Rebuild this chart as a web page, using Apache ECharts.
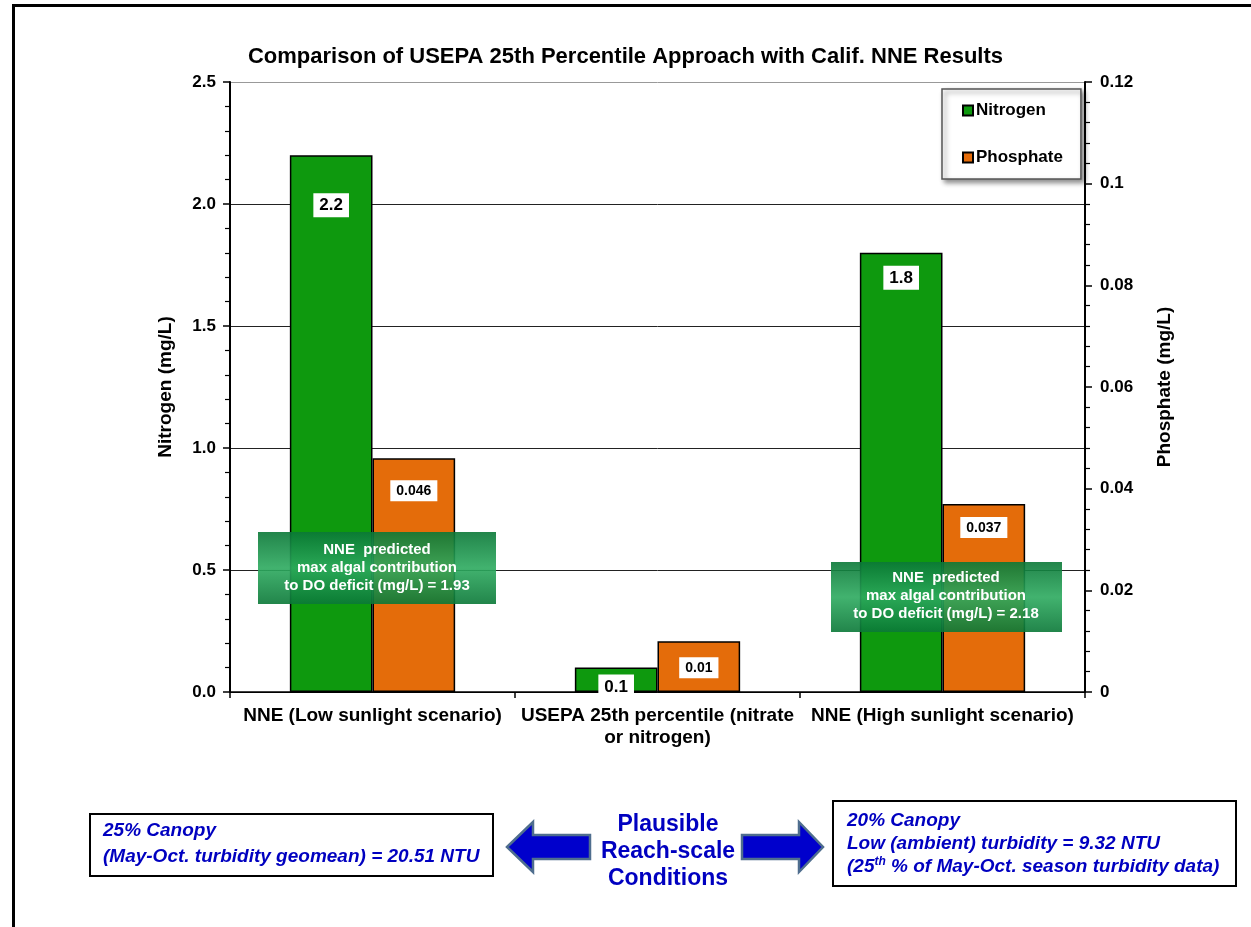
<!DOCTYPE html>
<html>
<head>
<meta charset="utf-8">
<script src="https://cdn.jsdelivr.net/npm/echarts@6/dist/echarts.min.js"></script>
<style>
html,body{margin:0;padding:0;background:#fff;}
#chart{width:1251px;height:927px;}
</style>
</head>
<body>
<div id="chart"></div>
<script>
const categories = ['NNE (Low sunlight scenario)', 'USEPA 25th percentile (nitrate\nor nitrogen)', 'NNE (High sunlight scenario)'];
const nitrogen = [2.2, 0.1, 1.8];
const phosphate = [0.046, 0.01, 0.037];
const leftTicks = [0, 0.5, 1.0, 1.5, 2.0, 2.5];
const rightTicks = [0, 0.02, 0.04, 0.06, 0.08, 0.1, 0.12];

// label placement (style only)
const nLabelDist = [38, 7, 13];
const pLabelDist = [22, 16, 13];

const FONT = '"Liberation Sans", Arial, sans-serif';
const BLUE = '#0000C0';

const chart = echarts.init(document.getElementById('chart'));

const nData = nitrogen.map((v, i) => ({ value: v, label: { distance: nLabelDist[i] } }));
const pData = phosphate.map((v, i) => ({ value: v, label: { distance: pLabelDist[i] } }));

function greenGrad() {
  return new echarts.graphic.LinearGradient(0, 0, 0, 1, [
    { offset: 0, color: 'rgba(10,120,55,0.9)' },
    { offset: 0.5, color: 'rgba(45,170,95,0.9)' },
    { offset: 1, color: 'rgba(10,120,55,0.9)' }
  ]);
}

const option = {
  animation: false,
  backgroundColor: '#fff',
  textStyle: { fontFamily: FONT },
  title: {
    text: 'Comparison of USEPA 25th Percentile Approach with Calif. NNE Results',
    left: 'center',
    top: 41,
    textStyle: { fontFamily: FONT, fontWeight: 'bold', fontSize: 22, color: '#000' }
  },
  legend: {
    orient: 'vertical',
    left: 942,
    top: 89,
    padding: [13, 18, 13, 20],
    itemGap: 30,
    itemWidth: 10,
    itemHeight: 10,
    icon: 'rect',
    backgroundColor: '#fff',
    borderColor: '#555',
    borderWidth: 1.5,
    shadowColor: 'rgba(0,0,0,0.45)',
    shadowBlur: 5,
    shadowOffsetX: 3,
    shadowOffsetY: 3,
    textStyle: { fontFamily: FONT, fontWeight: 'bold', fontSize: 17, color: '#000', padding: [0, 0, 0, -2] },
    data: ['Nitrogen', 'Phosphate']
  },
  grid: { left: 230, right: 166, top: 82, bottom: 235, containLabel: false },
  xAxis: {
    type: 'category',
    data: categories,
    axisLine: { lineStyle: { color: '#000', width: 1.5 } },
    axisTick: { show: true, length: 6, lineStyle: { color: '#000', width: 1.5 } },
    axisLabel: {
      interval: 0,
      margin: 13,
      fontFamily: FONT, fontWeight: 'bold', fontSize: 19, color: '#000', lineHeight: 22
    }
  },
  yAxis: [
    {
      type: 'value',
      min: 0, max: 2.5, interval: 0.5,
      name: 'Nitrogen (mg/L)',
      nameLocation: 'middle',
      nameRotate: 90,
      nameGap: 55,
      nameTextStyle: { fontFamily: FONT, fontWeight: 'bold', fontSize: 19, color: '#000' },
      axisLine: { show: true, lineStyle: { color: '#000', width: 2 } },
      axisTick: { show: true, length: 7, lineStyle: { color: '#000', width: 1.5 } },
      minorTick: { show: true, splitNumber: 5, length: 5, lineStyle: { color: '#000', width: 1.2 } },
      splitLine: { show: true, lineStyle: { color: ['#000', '#222', '#222', '#222', '#222', '#999'], width: 1 } },
      axisLabel: {
        margin: 14,
        formatter: v => v.toFixed(1),
        fontFamily: FONT, fontWeight: 'bold', fontSize: 17, color: '#000'
      }
    },
    {
      type: 'value',
      min: 0, max: 0.12, interval: 0.02,
      name: 'Phosphate (mg/L)',
      nameLocation: 'middle',
      nameRotate: 90,
      nameGap: 70,
      nameTextStyle: { fontFamily: FONT, fontWeight: 'bold', fontSize: 19, color: '#000' },
      axisLine: { show: true, lineStyle: { color: '#000', width: 2 } },
      axisTick: { show: true, length: 7, lineStyle: { color: '#000', width: 1.5 } },
      minorTick: { show: true, splitNumber: 5, length: 5, lineStyle: { color: '#000', width: 1.2 } },
      splitLine: { show: false },
      axisLabel: {
        margin: 15,
        formatter: v => String(+v.toFixed(2)),
        fontFamily: FONT, fontWeight: 'bold', fontSize: 17, color: '#000'
      }
    }
  ],
  series: [
    {
      name: 'Nitrogen',
      type: 'bar',
      yAxisIndex: 0,
      data: nData,
      barGap: '0%',
      barCategoryGap: '42%',
      itemStyle: { color: '#0E990E', borderColor: '#000', borderWidth: 1.5 },
      label: {
        show: true,
        position: 'insideTop',
        backgroundColor: '#fff',
        padding: [4, 6, 3, 6],
        fontFamily: FONT, fontWeight: 'bold', fontSize: 17, color: '#000'
      },
      z: 2
    },
    {
      name: 'Phosphate',
      type: 'bar',
      yAxisIndex: 1,
      data: pData,
      barGap: '0%',
      barCategoryGap: '42%',
      itemStyle: { color: '#E46C0A', borderColor: '#000', borderWidth: 1.5 },
      label: {
        show: true,
        position: 'insideTop',
        backgroundColor: '#fff',
        padding: [4, 6, 3, 6],
        fontFamily: FONT, fontWeight: 'bold', fontSize: 14, color: '#000'
      },
      z: 2
    }
  ],
  graphic: [
    // outer frame
    { type: 'rect', z: 100, shape: { x: 12, y: 4, width: 1245, height: 3 }, style: { fill: '#000' } },
    { type: 'rect', z: 100, shape: { x: 12, y: 4, width: 3, height: 930 }, style: { fill: '#000' } },
    // green annotation boxes
    { type: 'rect', z: 100, shape: { x: 258, y: 532, width: 238, height: 72 }, style: { fill: greenGrad() } },
    { type: 'text', z: 101, x: 377, y: 568, style: {
      text: 'NNE  predicted\nmax algal contribution\nto DO deficit (mg/L) = 1.93',
      fill: '#fff', font: 'bold 15px ' + FONT, align: 'center', verticalAlign: 'middle', lineHeight: 18
    } },
    { type: 'rect', z: 100, shape: { x: 831, y: 562, width: 231, height: 70 }, style: { fill: greenGrad() } },
    { type: 'text', z: 101, x: 946, y: 596, style: {
      text: 'NNE  predicted\nmax algal contribution\nto DO deficit (mg/L) = 2.18',
      fill: '#fff', font: 'bold 15px ' + FONT, align: 'center', verticalAlign: 'middle', lineHeight: 18
    } },
    // bottom left box
    { type: 'rect', z: 100, shape: { x: 90, y: 814, width: 403, height: 62 }, style: { fill: '#fff', stroke: '#000', lineWidth: 2 } },
    { type: 'text', z: 101, x: 103, y: 844, style: {
      text: '25% Canopy\n(May-Oct. turbidity geomean) = 20.51 NTU',
      fill: BLUE, font: 'italic bold 19px ' + FONT, align: 'left', verticalAlign: 'middle', lineHeight: 26
    } },
    // middle text
    { type: 'text', z: 101, x: 668, y: 852, style: {
      text: 'Plausible\nReach-scale\nConditions',
      fill: BLUE, font: 'bold 23px ' + FONT, align: 'center', verticalAlign: 'middle', lineHeight: 27
    } },
    // arrows
    { type: 'polygon', z: 100, shape: { points: [[507, 847], [533, 822], [533, 835], [590, 835], [590, 859], [533, 859], [533, 872]] },
      style: { fill: '#0000CC', stroke: '#4F6E8E', lineWidth: 2.5 } },
    { type: 'polygon', z: 100, shape: { points: [[742, 835], [799, 835], [799, 822], [823, 847], [799, 872], [799, 859], [742, 859]] },
      style: { fill: '#0000CC', stroke: '#4F6E8E', lineWidth: 2.5 } },
    // bottom right box
    { type: 'rect', z: 100, shape: { x: 833, y: 801, width: 403, height: 85 }, style: { fill: '#fff', stroke: '#000', lineWidth: 2 } },
    { type: 'text', z: 101, x: 847, y: 844, style: {
      text: '{a|20% Canopy}\n{a|Low (ambient) turbidity = 9.32 NTU}\n{a|(25}{s|th}{a| % of May-Oct. season turbidity data)}',
      verticalAlign: 'middle', align: 'left',
      rich: {
        a: { fill: BLUE, font: 'italic bold 19px ' + FONT, lineHeight: 23 },
        s: { fill: BLUE, font: 'italic bold 12px ' + FONT, lineHeight: 23, verticalAlign: 'top', padding: [0, 0, 8, 0] }
      }
    } }
  ]
};

chart.setOption(option);
</script>
</body>
</html>
